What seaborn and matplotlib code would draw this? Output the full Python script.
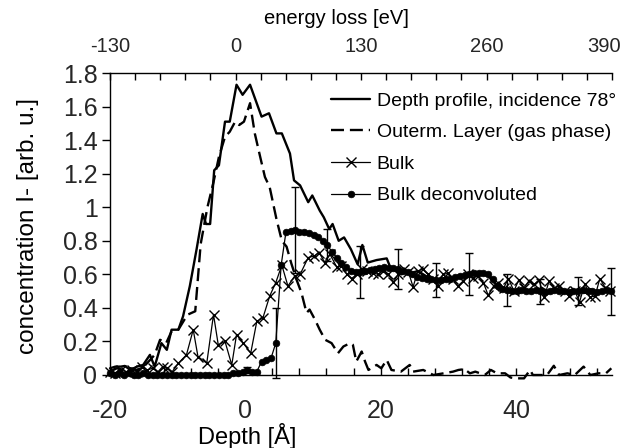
import matplotlib
matplotlib.use("Agg")
import matplotlib.pyplot as plt
from matplotlib.ticker import MultipleLocator, FixedLocator
import matplotlib.transforms as mtransforms
import seaborn as sns

# ---- data -------------------------------------------------------------
profile_depth = [-20, -19.2, -18.4, -17.8, -17.0, -16.0, -15.1, -14.1, -13.4, -12.4,
                 -11.6, -10.9, -9.9, -9.2, -8.2, -7.2, -6.3, -5.8, -5.2, -4.6,
                 -3.9, -3.0, -2.3, -1.3, -0.4, 0.7, 2.4, 3.5, 4.6, 5.4,
                 6.6, 7.2, 8.1, 9.3, 9.9, 11.0, 11.6, 12.4, 12.9, 13.8,
                 14.6, 15.6, 16.6, 17.3, 18.1, 19.4, 20.9, 21.5, 22.3, 23.1,
                 23.9, 24.7, 25.5, 26.3, 27.1, 27.9, 28.7, 29.5, 30.3, 31.1,
                 31.9, 32.7, 33.5, 34.3, 35.1, 35.9, 36.6, 37.4, 38.2, 39.0,
                 39.8, 40.6, 41.4, 42.2, 43.0, 43.8, 44.6, 45.4, 46.2, 47.0,
                 47.8, 48.6, 49.4, 50.2, 51.0, 51.8, 52.6, 53.4, 54.1]
profile_conc = [0.04, 0.05, 0.05, 0.054, 0.03, 0.05, 0.06, 0.12, 0.05, 0.19,
                0.15, 0.27, 0.27, 0.35, 0.53, 0.75, 0.96, 0.90, 0.90, 1.22,
                1.25, 1.51, 1.51, 1.73, 1.67, 1.73, 1.54, 1.56, 1.44, 1.44,
                1.32, 1.16, 1.13, 1.03, 1.07, 0.98, 0.94, 0.87, 0.90, 0.80,
                0.82, 0.75, 0.66, 0.775, 0.67, 0.685, 0.695, 0.635, 0.62, 0.60,
                0.62, 0.61, 0.62, 0.60, 0.58, 0.57, 0.56, 0.58, 0.56, 0.58,
                0.59, 0.60, 0.60, 0.61, 0.60, 0.59, 0.56, 0.52, 0.50, 0.51,
                0.49, 0.50, 0.51, 0.50, 0.50, 0.52, 0.50, 0.50, 0.51, 0.50,
                0.49, 0.50, 0.50, 0.49, 0.51, 0.50, 0.50, 0.51, 0.50]

outer_depth = [-20, -19, -18, -17, -16, -15, -14.3, -13.4, -12.6, -11.7,
               -10.9, -9.9, -9.0, -8.5, -7.4, -6.6, -5.6, -4.7, -3.9, -3.0,
               -2.3, -1.5, -0.9, -0.2, 0.7, 1.4, 2.2, 2.9, 3.6, 4.6,
               5.4, 6.1, 6.8, 7.6, 8.3, 9.05, 9.5, 10.3, 11.0, 11.8,
               12.75, 13.7, 14.5, 15.5, 15.9, 16.4, 17.2, 17.7, 18.2, 19.4,
               20.1, 20.9, 21.6, 23.0, 24.3, 24.8, 26.3, 27.8, 29.3, 30.7,
               31.5, 32.4, 33.2, 34.0, 35.4, 36.3, 37.2, 38.4, 39.2, 40.0,
               41.2, 42.1, 42.5, 43.5, 44.6, 45.6, 46.4, 47.6, 48.7, 50.0,
               51.0, 52.2, 53.3, 54.1]
outer_conc = [0.02, 0.04, 0.03, 0.04, 0.03, 0.05, 0.08, 0.12, 0.21, 0.19,
              0.26, 0.27, 0.33, 0.36, 0.38, 0.78, 1.00, 1.15, 1.30, 1.42,
              1.45, 1.51, 1.49, 1.51, 1.62, 1.44, 1.30, 1.18, 1.12, 0.93,
              0.80, 0.765, 0.665, 0.565, 0.49, 0.37, 0.39, 0.33, 0.27, 0.21,
              0.19, 0.13, 0.17, 0.19, 0.18, 0.08, 0.14, 0.08, 0.03, 0.06,
              0.04, 0.09, 0.03, 0.02, 0.06, 0.02, 0.03, 0.0, 0.01, 0.02,
              0.03, 0.035, 0.01, 0.02, 0.0, 0.03, 0.01, 0.01, -0.015, -0.02,
              -0.02, 0.03, 0.0, 0.0, 0.0, 0.055, 0.0, 0.01, 0.0, 0.05,
              0.0, 0.01, 0.01, 0.04]

bulk_depth = [-20, -19.2, -18.4, -17.6, -16.8, -16.0, -15.3, -14.5, -13.7, -12.9,
              -12.2, -11.6, -10.8, -9.9, -8.7, -7.7, -7.0, -5.7, -4.7, -4.0,
              -3.0, -2.0, -1.3, -0.3, 0.8, 1.7, 2.6, 3.6, 4.5, 5.4,
              6.3, 7.3, 8.1, 9.3, 10.2, 10.9, 11.75, 12.5, 13.5, 14.2,
              15.0, 15.7, 16.5, 17.3, 18.0, 18.8, 19.6, 20.3, 21.1, 21.9,
              22.6, 23.4, 24.1, 24.8, 25.5, 26.2, 27.0, 27.7, 28.5, 29.2,
              29.9, 30.7, 31.4, 32.2, 32.9, 33.7, 34.4, 35.2, 35.9, 36.7,
              37.4, 38.2, 38.9, 39.7, 40.4, 41.2, 41.9, 42.7, 43.4, 44.2,
              44.9, 45.7, 46.4, 47.2, 47.9, 48.7, 49.4, 50.2, 50.9, 51.7,
              52.4, 53.2, 53.9]
bulk_conc = [0.02, 0.01, 0.03, 0.02, 0.03, 0.02, 0.05, 0.03, 0.04, 0.02,
             0.05, 0.04, 0.02, 0.07, 0.12, 0.27, 0.11, 0.07, 0.36, 0.18,
             0.20, 0.06, 0.24, 0.19, 0.13, 0.32, 0.34, 0.47, 0.55, 0.655,
             0.53, 0.59, 0.60, 0.70, 0.71, 0.73, 0.67, 0.72, 0.645, 0.65,
             0.60, 0.575, 0.60, 0.63, 0.62, 0.61, 0.60, 0.62, 0.60, 0.555,
             0.60, 0.63, 0.615, 0.525, 0.62, 0.63, 0.60, 0.57, 0.53, 0.60,
             0.605, 0.57, 0.53, 0.56, 0.60, 0.58, 0.59, 0.55, 0.475, 0.53,
             0.55, 0.52, 0.575, 0.50, 0.565, 0.52, 0.56, 0.54, 0.565, 0.465,
             0.56, 0.52, 0.53, 0.50, 0.47, 0.50, 0.435, 0.545, 0.465, 0.47,
             0.575, 0.52, 0.50]

deconv_depth = [-20, -19.3, -18.6, -17.9, -17.2, -16.5, -15.8, -15.1, -14.4, -13.7,
                -13.0, -12.3, -11.6, -10.9, -10.2, -9.5, -8.8, -8.1, -7.4, -6.7,
                -6.0, -5.3, -4.6, -3.9, -3.2, -2.5, -1.8, -1.1, -0.4, 0.3,
                1.0, 1.7, 2.4, 3.1, 3.8, 4.5, 5.3, 6.0, 6.7, 7.3,
                8.0, 8.7, 9.4, 10.1, 10.8, 11.5, 12.1, 12.8, 13.5, 14.2,
                14.9, 15.6, 16.3, 17.0, 17.7, 18.4, 19.1, 19.8, 20.5, 21.2,
                21.9, 22.6, 23.3, 24.0, 24.7, 25.4, 26.1, 26.8, 27.5, 28.2,
                28.9, 29.6, 30.3, 31.0, 31.7, 32.4, 33.1, 33.8, 34.5, 35.2,
                35.9, 36.6, 37.3, 38.0, 38.7, 39.4, 40.1, 40.8, 41.5, 42.2,
                42.9, 43.6, 44.3, 45.0, 45.7, 46.4, 47.1, 47.8, 48.5, 49.2,
                49.9, 50.6, 51.3, 52.0, 52.7, 53.4, 54.0]
deconv_conc = [0.01, 0.0, 0.01, 0.0, 0.01, 0.0, 0.0, 0.01, 0.0, 0.0,
               0.0, 0.0, 0.0, 0.0, 0.0, 0.0, 0.0, 0.0, 0.0, 0.0,
               0.0, 0.0, 0.0, 0.0, 0.0, 0.0, 0.01, 0.01, 0.02, 0.03,
               0.02, 0.02, 0.08, 0.09, 0.10, 0.19, 0.655, 0.85, 0.86, 0.865,
               0.855, 0.85, 0.845, 0.835, 0.825, 0.80, 0.775, 0.735, 0.70, 0.67,
               0.645, 0.62, 0.615, 0.615, 0.62, 0.625, 0.63, 0.64, 0.645, 0.64,
               0.635, 0.63, 0.62, 0.615, 0.60, 0.585, 0.58, 0.575, 0.57, 0.565,
               0.565, 0.57, 0.575, 0.585, 0.59, 0.595, 0.60, 0.605, 0.61, 0.605,
               0.60, 0.575, 0.53, 0.51, 0.505, 0.50, 0.50, 0.505, 0.50, 0.50,
               0.505, 0.50, 0.495, 0.50, 0.505, 0.50, 0.50, 0.495, 0.50, 0.50,
               0.505, 0.50, 0.50, 0.495, 0.50, 0.505, 0.50]

err_depth = [0.3, 4.5, 7.3, 12.1, 17.0, 22.6, 28.2, 33.1, 38.7, 43.6, 49.2, 54.0]
err_conc = [0.03, 0.19, 0.865, 0.775, 0.615, 0.63, 0.565, 0.60, 0.505, 0.50, 0.50, 0.50]
err_size = [0.02, 0.21, 0.255, 0.095, 0.155, 0.12, 0.10, 0.125, 0.095, 0.075, 0.085, 0.14]

energy_ticks = [-130, 0, 130, 260, 390]

# ---- style ------------------------------------------------------------
sns.set_theme(style="white")
plt.rcParams["font.family"] = ["Liberation Sans", "DejaVu Sans"]
plt.rcParams["axes.unicode_minus"] = False

W, H = 622, 448
fig = plt.figure(figsize=(W / 100, H / 100), dpi=100)
x0, x1, y0, y1 = 110, 612, 375, 73
ax = fig.add_axes([x0 / W, 1 - y0 / H, (x1 - x0) / W, (y0 - y1) / H])

black = "black"
sns.lineplot(x=profile_depth, y=profile_conc, ax=ax, color=black, lw=1.7,
             sort=False, estimator=None, clip_on=False,
             label="Depth profile, incidence 78\u00b0")
sns.lineplot(x=outer_depth, y=outer_conc, ax=ax, color=black, lw=1.7,
             linestyle=(0, (5.5, 2.5)), sort=False, estimator=None, clip_on=False,
             label="Outerm. Layer (gas phase)")
sns.lineplot(x=bulk_depth, y=bulk_conc, ax=ax, color=black, lw=0.9,
             marker="x", markersize=7, markeredgewidth=1.0,
             markeredgecolor=black, markerfacecolor=black, sort=False,
             estimator=None, clip_on=False, label="Bulk")
sns.lineplot(x=deconv_depth, y=deconv_conc, ax=ax, color=black, lw=0.9,
             marker="o", markersize=4.8, markeredgewidth=0.5,
             markeredgecolor=black, markerfacecolor=black, sort=False,
             estimator=None, clip_on=False, label="Bulk deconvoluted")
eb = ax.errorbar(err_depth, err_conc, yerr=err_size, fmt="none", ecolor=black,
                 elinewidth=1.0, capsize=3, capthick=1.0)
for art in eb.lines[1] + eb.lines[2]:
    art.set_clip_on(False)

ax.set_xlim(-20, 54.2)
ax.set_ylim(0, 1.8)
ax.set_xlabel("")
ax.set_ylabel("")

for side in ("top", "right"):
    ax.spines[side].set_visible(False)
for side in ("left", "bottom"):
    ax.spines[side].set_color(black)
    ax.spines[side].set_linewidth(1.0)

ax.xaxis.set_major_locator(MultipleLocator(20))
ax.xaxis.set_minor_locator(MultipleLocator(4))
ax.yaxis.set_major_locator(MultipleLocator(0.2))
ax.set_yticklabels([("%g" % v) for v in ax.get_yticks()])
ax.tick_params(axis="x", which="both", direction="in", length=5, width=1,
               color=black, labelsize=18, pad=17, bottom=True)
ax.tick_params(axis="y", which="major", direction="out", length=6, width=1,
               color=black, labelsize=18, pad=3, left=True)

# energy-loss scale along the top edge
ax2 = ax.twiny()
ax2.set_xlim(-130, 390)
ax2.xaxis.set_major_locator(FixedLocator(energy_ticks))
ax2.xaxis.set_minor_locator(MultipleLocator(26))
for side in ("bottom", "left", "right"):
    ax2.spines[side].set_visible(False)
ax2.spines["top"].set_color(black)
ax2.spines["top"].set_linewidth(1.0)
ax2.tick_params(axis="x", which="both", direction="in", length=5, width=1,
                color=black, labelsize=14.5, pad=12, top=True)
ax2.grid(False)
ax.grid(False)
fig.canvas.draw()
last = ax2.get_xticklabels()[-1]
last.set_transform(last.get_transform() +
                   mtransforms.ScaledTranslation(-8 / 100, 0, fig.dpi_scale_trans))

leg = ax.legend(loc="upper right", bbox_to_anchor=(616 / W, 1 - 92 / H),
                bbox_transform=fig.transFigure, frameon=False, fontsize=14,
                handlelength=2.0, handletextpad=0.35, labelspacing=0.72,
                borderpad=0, borderaxespad=0)
for t in leg.get_texts():
    t.set_color(black)

fig.text(28 / W, 1 - 226 / H, "concentration I- [arb. u.]", rotation=90,
         ha="center", va="center", fontsize=17.5, color=black)
fig.text(247 / W, 1 - 436 / H, "Depth [\u00c5]", ha="center", va="center",
         fontsize=17, color=black)
fig.text(336 / W, 1 - 18 / H, "energy loss [eV]", ha="center", va="center",
         fontsize=14.5, color=black)

fig.savefig("out.png", dpi=100)
